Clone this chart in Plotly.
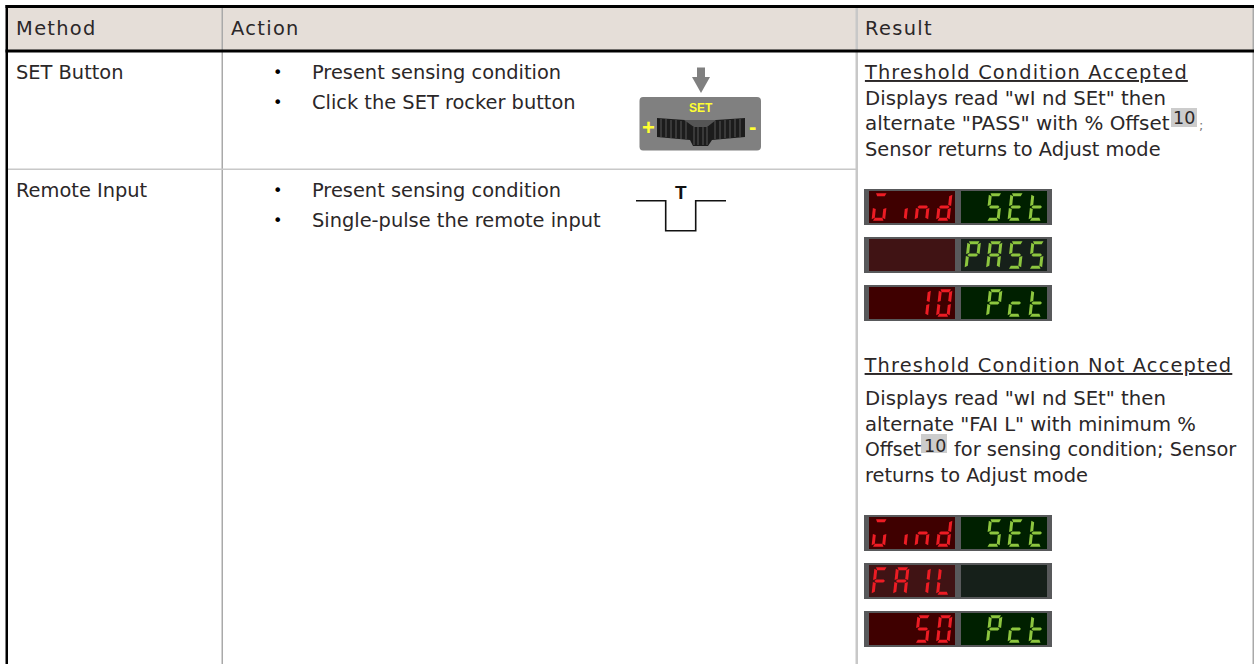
import plotly.graph_objects as go

W, H = 1254, 664
FONT = "DejaVu Sans"
TXT = "#2b2728"
SIZE = 19.4

# ---- content ----
HEADERS = ["Method", "Action", "Result"]
METHODS = ["SET Button", "Remote Input"]
ACTIONS_SET = ["Present sensing condition", "Click the SET rocker button"]
ACTIONS_REMOTE = ["Present sensing condition", "Single-pulse the remote input"]
ACCEPTED_TITLE = "Threshold Condition Accepted"
ACCEPTED_LINES = ['Displays read "wI nd SEt" then', 'alternate "PASS" with % Offset', "Sensor returns to Adjust mode"]
NOT_ACCEPTED_TITLE = "Threshold Condition Not Accepted"
NOT_ACCEPTED_LINES = ['Displays read "wI nd SEt" then', 'alternate "FAI L" with minimum %', "Offset", "for sensing condition; Sensor", "returns to Adjust mode"]
FOOTNOTE = "10"
RED_DISPLAY = ["wind", "    ", "  10", "wind", "FAIL", "  50"]
GREEN_DISPLAY = [" SEt", "PASS", " Pct", " SEt", "    ", " Pct"]

# seven-segment letters
GLYPHS = {
    "w": "acde", "i": "c", "n": "ceg", "d": "bcdeg", "S": "acdfg", "E": "adefg", "t": "defg",
    "P": "abefg", "A": "abcefg", "c": "deg", "F": "aefg", "I": "bc", "L": "def",
    "1": "bc", "0": "abcdef", "5": "acdfg", " ": "",
}

shapes, annotations = [], []


def rect(x0, y0, x1, y1, color):
    shapes.append(dict(type="rect", x0=x0, y0=y0, x1=x1, y1=y1, fillcolor=color, line_width=0, layer="below"))


def poly(points, color, line=0, linecolor=None):
    path = "M" + " L".join(f"{x},{y}" for x, y in points) + " Z"
    shapes.append(dict(type="path", path=path, fillcolor=color, line=dict(width=line, color=linecolor or color)))


def text(x, y, s, size=SIZE, color=TXT, anchor="left", family=FONT, weight=None):
    font = dict(family=family, size=size, color=color)
    if weight:
        font["weight"] = weight
    annotations.append(dict(x=x, y=y, text=s, showarrow=False, xanchor=anchor, yanchor="middle",
                            font=font, xref="x", yref="y", borderpad=0))


# ---- table frame ----
rect(8, 8, 1254, 50, "#e5ded8")
rect(221.5, 8, 223, H, "#a9a9a9")
rect(855.5, 8, 858, H, "#c8c8c8")
rect(8, 168.5, 856, 170, "#c8c8c8")
rect(1252.5, 8, 1254, H, "#a9a9a9")
rect(5.5, 5, 8, H, "#000000")
rect(5.5, 5, W, 8, "#000000")
rect(5.5, 49.5, W, 52.5, "#000000")

for x, s in zip([19, 234, 868], HEADERS):
    text(x, 28, s)
text(14.5, 72.5, METHODS[0])
text(14.5, 190.5, METHODS[1])

for y, s in zip([72.5, 102], ACTIONS_SET):
    text(277, y, "•", size=16, color="#000000", anchor="center")
    text(310.5, y, s)
for y, s in zip([190.5, 220], ACTIONS_REMOTE):
    text(277, y, "•", size=16, color="#000000", anchor="center")
    text(310.5, y, s)

# ---- result column ----
text(879, 72.5, f"<u>{ACCEPTED_TITLE}</u>")
text(864, 98, ACCEPTED_LINES[0], size=19.7)
text(864, 123.5, ACCEPTED_LINES[1], size=19.9)
text(864, 149, ACCEPTED_LINES[2])
text(881, 365, f"<u>{NOT_ACCEPTED_TITLE}</u>")
text(864, 398.5, NOT_ACCEPTED_LINES[0], size=19.7)
text(864, 424, NOT_ACCEPTED_LINES[1], size=19.6)
text(864, 449.5, NOT_ACCEPTED_LINES[2], size=18.8)
text(953, 449.5, NOT_ACCEPTED_LINES[3])
text(864, 475, NOT_ACCEPTED_LINES[4])

# footnote references with grey highlight
rect(1171, 108, 1197, 127, "#cccccc")
text(1184, 118, FOOTNOTE, size=17.5, anchor="center")
text(1197.5, 125, ";", size=13, color="#777777")
rect(921, 434, 947, 453, "#cccccc")
text(934.5, 446, FOOTNOTE, size=17.5, anchor="center")

# ---- SET rocker graphic ----
poly([(697, 67.5), (705, 67.5), (705, 77), (710, 77), (701, 93), (692, 77), (697, 77)], "#808080")
shapes.append(dict(type="path", fillcolor="#808080", line_width=0,
                   path="M643,97 L757,97 Q761,97 761,101 L761,146.5 Q761,150.5 757,150.5 L643,150.5 "
                        "Q639.5,150.5 639.5,146.5 L639.5,101 Q639.5,97 643,97 Z"))
poly([(657, 118), (685, 120), (716, 120), (745, 118), (745, 137), (712, 140),
      (708, 146), (693, 146), (690, 140), (657, 137)], "#1c1c1c")
TOOTH_X = [661, 666, 671, 676, 681, 686, 694, 698, 703, 707, 715, 720, 725, 730, 735, 740]
TOOTH_TOP = [119, 119, 120, 120, 121, 121, 127, 127, 127, 127, 121, 121, 120, 120, 119, 119]
TOOTH_BOTTOM = [137, 137, 138, 138, 139, 139, 145, 145, 145, 145, 139, 139, 138, 138, 137, 137]
for x, y0, y1 in zip(TOOTH_X, TOOTH_TOP, TOOTH_BOTTOM):
    shapes.append(dict(type="line", x0=x, x1=x, y0=y0, y1=y1, line=dict(color="#474747", width=1.4)))
poly([(684, 120), (716, 120), (707, 127), (694, 127)], "#555555")
text(701, 107.5, "SET", size=12, color="#ffff33", anchor="center",
     family="Liberation Sans Narrow, Liberation Sans", weight="bold")
text(648, 127.5, "+", size=22, color="#ffff33", anchor="center", family="Liberation Sans", weight="bold")
text(752, 126.5, "-", size=22, color="#ffff33", anchor="center", family="Liberation Sans", weight="bold")

# ---- remote pulse graphic ----
shapes.append(dict(type="path", path="M636,200.7 L665.7,200.7 L665.7,230.7 L695.7,230.7 L695.7,200.7 L726,200.7",
                   line=dict(color="#111111", width=1.6), fillcolor="rgba(0,0,0,0)"))
text(680.7, 192, "T", size=19, color="#111111", anchor="center",
     family="Liberation Sans Narrow, Liberation Sans", weight="bold")


# ---- seven-segment displays ----
def segments(x, y, glyph, color):
    w, h, s, t = 13.5, 27.4, 3.0, 3.0

    def P(u, v):
        return (round(x + u + s * (1 - v / h), 2), round(y + v, 2))

    m = h / 2
    seg = {
        "a": [P(1.5, 0), P(w - 1.5, 0), P(w - 3, t), P(3, t)],
        "b": [P(w, 1.5), P(w, m - 1), P(w - t, m - 2), P(w - t, 3)],
        "c": [P(w, m + 1), P(w, h - 1.5), P(w - t, h - 3), P(w - t, m + 2)],
        "d": [P(3, h - t), P(w - 3, h - t), P(w - 1.5, h), P(1.5, h)],
        "e": [P(0, m + 1), P(t, m + 2), P(t, h - 3), P(0, h - 1.5)],
        "f": [P(0, 1.5), P(t, 3), P(t, m - 2), P(0, m - 1)],
        "g": [P(1.5, m), P(3, m - t / 2), P(w - 3, m - t / 2), P(w - 1.5, m), P(w - 3, m + t / 2), P(3, m + t / 2)],
    }
    for key in GLYPHS[glyph]:
        poly(seg[key], color)


PANEL_TOPS = [189, 237, 285, 515, 563, 611]
RED_CELLS = [871.5, 893, 914.5, 936]
GREEN_CELLS = [964.5, 986, 1007.5, 1028.5]
for top, red, green in zip(PANEL_TOPS, RED_DISPLAY, GREEN_DISPLAY):
    rect(864, top, 1052, top + 36, "#58595b")
    red_bg = "#3f0000" if red.strip() and red != "FAIL" else "#401314"
    green_bg = "#002000" if green.strip() and green != "PASS" else "#16201a"
    rect(869, top + 2, 955, top + 34, red_bg)
    rect(961, top + 2, 1047, top + 34, green_bg)
    for cx, ch in zip(RED_CELLS, red):
        segments(cx, top + 4.3, ch, "#ed1c24")
    for cx, ch in zip(GREEN_CELLS, green):
        segments(cx, top + 4.3, ch, "#8dc63f")

fig = go.Figure()
fig.update_layout(
    width=W, height=H, autosize=False,
    margin=dict(l=0, r=0, t=0, b=0),
    paper_bgcolor="white", plot_bgcolor="white",
    xaxis=dict(range=[0, W], visible=False, fixedrange=True),
    yaxis=dict(range=[H, 0], visible=False, fixedrange=True),
    shapes=shapes, annotations=annotations, showlegend=False,
)
post = """
document.documentElement.style.margin = '0';
document.body.style.margin = '0';
document.body.style.overflow = 'hidden';
var headers = %s, titles = %s;
document.querySelectorAll('.annotation-text').forEach(function (n) {
  if (headers.indexOf(n.textContent) >= 0) { n.style.letterSpacing = '1.3px'; }
  if (titles.indexOf(n.textContent) >= 0) { n.style.letterSpacing = '1.15px'; }
});
""" % (HEADERS, [ACCEPTED_TITLE, NOT_ACCEPTED_TITLE])
fig.write_html("out.html", config={"displayModeBar": False}, post_script=post)
